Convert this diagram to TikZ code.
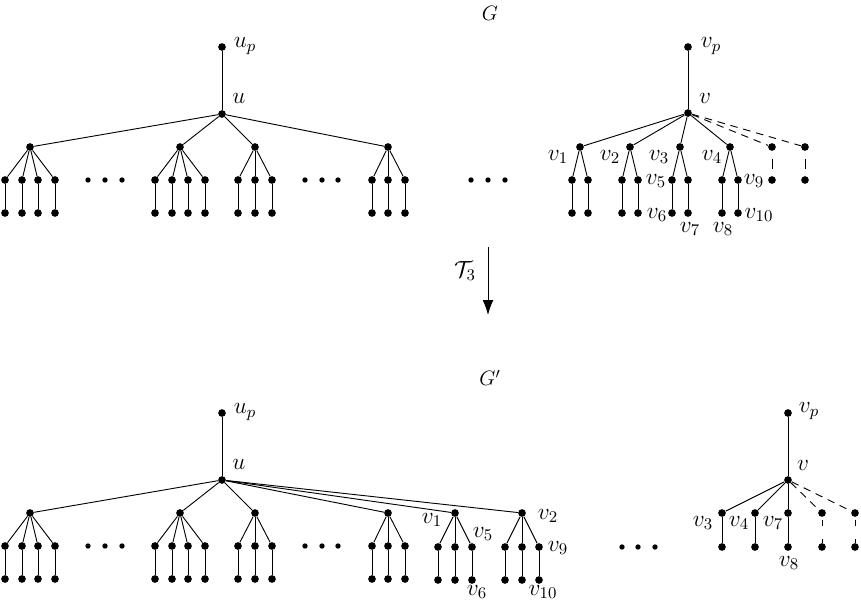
\RequirePackage{fix-cm}
\documentclass[tikz,border=0pt]{standalone}
\usetikzlibrary{arrows.meta}
\begin{document}
\begin{tikzpicture}[x=0.6pt,y=-0.6pt,
  vtx/.style={circle,fill,inner sep=0pt,minimum size=4.6pt},
  elldot/.style={circle,fill,inner sep=0pt,minimum size=3.2pt},
  edge/.style={line width=0.55pt},
  dashedge/.style={line width=0.55pt,dash pattern=on 4.5pt off 3.5pt},
  vdashtop/.style={line width=0.55pt,dash pattern=on 0pt off 4.5pt on 6pt off 20pt},
  vdashbot/.style={line width=0.55pt,dash pattern=on 0pt off 1.5pt on 3.5pt off 8pt on 3.5pt off 20pt},
  lbl/.style={inner sep=0pt,font=\fontsize{14}{17}\selectfont},
  ttl/.style={inner sep=0pt,font=\fontsize{12.5}{15}\selectfont}]
\useasboundingbox (0,0) rectangle (861,604);

% titles
\node[ttl] (G) at (490,13) {$G$};
\node[ttl] (Gp) at (490,378) {$G'$};

% left trees (top: T, bottom: B)
\foreach \k/\yo in {T/0,B/366} {
  \node[vtx] (\k up) at (222,47+\yo) {};
  \node[vtx] (\k u) at (222,114+\yo) {};
  \draw[edge] (\k up) -- (\k u);
  \node[lbl] (\k upl) at (245,46+\yo) {$u_p$};
  \node[lbl] (\k ul) at (239,98+\yo) {$u$};
  \foreach \n/\x in {a/30,b/180,c/255,d/388} {
    \node[vtx] (\k\n) at (\x,147+\yo) {};
    \draw[edge] (\k u) -- (\k\n);
  }
  \foreach \p/\i/\x in {a/1/5,a/2/22,a/3/38,a/4/55,b/1/155,b/2/172,b/3/188,b/4/205,c/1/238,c/2/255,c/3/272,d/1/372,d/2/388,d/3/405} {
    \node[vtx] (\k\p\i) at (\x,180+\yo) {};
    \node[vtx] (\k\p\i l) at (\x,213+\yo) {};
    \draw[edge] (\k\p) -- (\k\p\i);
    \draw[edge] (\k\p\i) -- (\k\p\i l);
  }
  \foreach \j/\x in {1/88,2/105,3/122,4/305,5/322,6/338} {
    \node[elldot] (\k e\j) at (\x,180+\yo) {};
  }
}
% middle ellipses
\foreach \j/\x in {1/471,2/488,3/505} {\node[elldot] (Tm\j) at (\x,180) {};}
\foreach \j/\x in {1/622,2/638,3/655} {\node[elldot] (Bm\j) at (\x,547) {};}

% ---------- top right tree ----------
\node[vtx] (vp) at (688,47) {};
\node[vtx] (v) at (688,113) {};
\draw[edge] (vp) -- (v);
\node[lbl] (vpl) at (711,46) {$v_p$};
\node[lbl] (vl) at (705,98) {$v$};
\foreach \n/\x in {1/580,2/630,3/680,4/730} {
  \node[vtx] (v\n) at (\x,147) {};
  \draw[edge] (v) -- (v\n);
  \node[vtx] (v\n a) at (\x-8,180) {};
  \node[vtx] (v\n b) at (\x+8,180) {};
  \node[vtx] (v\n al) at (\x-8,213) {};
  \node[vtx] (v\n bl) at (\x+8,213) {};
  \draw[edge] (v\n) -- (v\n a);
  \draw[edge] (v\n) -- (v\n b);
  \draw[edge] (v\n a) -- (v\n al);
  \draw[edge] (v\n b) -- (v\n bl);
}
\foreach \n/\x in {5/772,6/805} {
  \node[vtx] (v\n) at (\x,147) {};
  \node[vtx] (v\n a) at (\x,180) {};
  \draw[dashedge] (v) -- (v\n);
  \draw[vdashtop] (v\n) -- (v\n a);
}
\node[lbl] (l1) at (558,157) {$v_1$};
\node[lbl] (l2) at (610,157) {$v_2$};
\node[lbl] (l3) at (659,157) {$v_3$};
\node[lbl] (l4) at (712,157) {$v_4$};
\node[lbl] (l5) at (656,181) {$v_5$};
\node[lbl] (l6) at (657,215) {$v_6$};
\node[lbl] (l7) at (690,229) {$v_7$};
\node[lbl] (l8) at (723,229) {$v_8$};
\node[lbl] (l9) at (754,181) {$v_9$};
\node[lbl] (l10) at (759,215) {$v_{10}$};

% ---------- arrow ----------
\coordinate (as) at (488,247);
\coordinate (ae) at (488,315);
\draw[line width=0.6pt,-{Latex[length=9pt,width=6.5pt]}] (as) -- (ae);
\node[lbl] (T3) at (465,271) {$\mathcal{T}_3$};

% ---------- bottom: moved subtrees ----------
\foreach \n/\x in {1/455,2/522} {
  \node[vtx] (w\n) at (\x,513) {};
  \draw[edge] (Bu) -- (w\n);
  \foreach \i/\dx in {a/-17,b/0,c/17} {
    \node[vtx] (w\n\i) at (\x+\dx,547) {};
    \node[vtx] (w\n\i l) at (\x+\dx,580) {};
    \draw[edge] (w\n) -- (w\n\i);
    \draw[edge] (w\n\i) -- (w\n\i l);
  }
}
\node[lbl] (m1) at (432,520) {$v_1$};
\node[lbl] (m5) at (483,534) {$v_5$};
\node[lbl] (m2) at (548,516) {$v_2$};
\node[lbl] (m9) at (558,548) {$v_9$};
\node[lbl] (m6) at (477,592) {$v_6$};
\node[lbl] (m10) at (543,592) {$v_{10}$};

% ---------- bottom right tree ----------
\node[vtx] (bvp) at (788,413) {};
\node[vtx] (bv) at (788,480) {};
\draw[edge] (bvp) -- (bv);
\node[lbl] (bvpl) at (809,411) {$v_p$};
\node[lbl] (bvl) at (803,465) {$v$};
\foreach \n/\x in {1/722,2/755,3/788} {
  \node[vtx] (c\n) at (\x,513) {};
  \node[vtx] (c\n l) at (\x,547) {};
  \draw[edge] (bv) -- (c\n);
  \draw[edge] (c\n) -- (c\n l);
}
\foreach \n/\x in {4/822,5/855} {
  \node[vtx] (c\n) at (\x,513) {};
  \node[vtx] (c\n l) at (\x,547) {};
  \draw[dashedge] (bv) -- (c\n);
  \draw[vdashbot] (c\n) -- (c\n l);
}
\node[lbl] (n3) at (703,523) {$v_3$};
\node[lbl] (n4) at (739,523) {$v_4$};
\node[lbl] (n7) at (773,523) {$v_7$};
\node[lbl] (n8) at (789,563) {$v_8$};
\end{tikzpicture}
\end{document}
